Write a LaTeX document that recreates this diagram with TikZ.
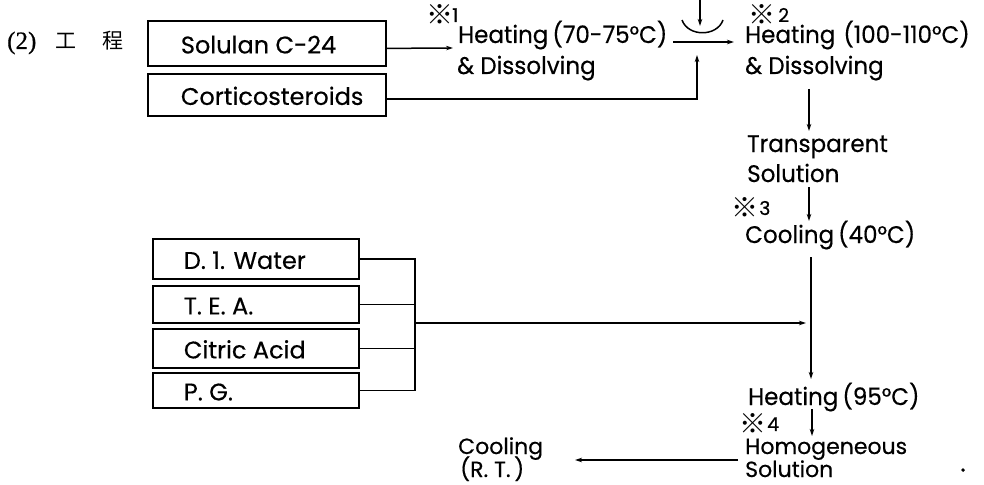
\documentclass[tikz,border=0pt]{standalone}
\usepackage{fontspec}
\setmainfont{Poppins}[FakeBold=0.4]
\newfontfamily\narrow{Poppins}[FakeStretch=0.96,FakeBold=0.4]
\newfontfamily\cjk{Noto Sans CJK JP}
\newfontfamily\serif{Liberation Serif}[FakeBold=0.6]
\usetikzlibrary{arrows.meta}
\newcommand{\rmk}[2]{{\cjk\fontsize{27}{27}\selectfont ※}\hspace{#1}\raisebox{3pt}{#2}}
\begin{document}
\begin{tikzpicture}[x=1pt,y=-1pt,
  lw/.style={line width=1.5pt},
  arr/.style={lw,-{Stealth[length=7pt,width=4.5pt]}},
  box/.style={draw,line width=1.8pt,anchor=north west,inner sep=0pt,
    text height=20pt,text depth=0pt,font=\fontsize{24}{28}\selectfont},
  txt/.style={anchor=base west,inner sep=0pt,font=\narrow\fontsize{24}{28}\selectfont},
  txts/.style={anchor=base west,inner sep=0pt,font=\fontsize{22}{24}\selectfont},
  refm/.style={anchor=west,inner sep=0pt,font=\fontsize{19}{20}\selectfont}
]
\useasboundingbox (0,0) rectangle (984,484);
\fill[white] (0,0) rectangle (984,484);

% title
\node[anchor=base west,inner sep=0pt] (title) at (7,49)
  {\serif\fontsize{25}{27}\selectfont (2)\hspace{19pt}{\cjk\fontsize{21}{24}\selectfont 工}\hspace{26pt}{\cjk\fontsize{21}{24}\selectfont 程}};

% input boxes (top)
\node[box,minimum width=238pt,minimum height=45pt] (sol) at (147,20)
  {\makebox[172pt][l]{Solulan C-24}};
\node[box,minimum width=238pt,minimum height=42pt] (cort) at (147,73)
  {\makebox[172pt][l]{Corticosteroids}};

% input boxes (lower)
\node[box,minimum width=206pt,minimum height=40pt] (water) at (152,238)
  {\makebox[144pt][l]{D. 1. Water}};
\node[box,minimum width=206pt,minimum height=37pt] (tea) at (152,285)
  {\makebox[144pt][l]{T. E. A.}};
\node[box,minimum width=206pt,minimum height=39pt] (cit) at (152,328)
  {\makebox[144pt][l]{Citric Acid}};
\node[box,minimum width=206pt,minimum height=35pt] (pg) at (152,372)
  {\makebox[144pt][l]{P. G.}};

% process texts
\node[txt] (h1a) at (458,43) {Heating\,(70-75°C)};
\node[txt] (h1b) at (457,74) {\& Dissolving};
\node[txt] (h2a) at (745,43) {Heating\,\,(100-110°C)};
\node[txt] (h2b) at (745,74) {\& Dissolving};
\node[txt] (tr1) at (747,152) {Transparent};
\node[txt] (tr2) at (747,182) {Solution};
\node[txt] (cool) at (745,243) {Cooling\,(40°C)};
\node[txt] (h3) at (748,405) {Heating\,(95°C)};
\node[txts] (hom1) at (745,454) {Homogeneous};
\node[txts] (hom2) at (745,477) {Solution};
\node[txts] (rt1) at (458,454) {Cooling};
\node[txts] (rt2) at (460,477) {(R.\ T.\,)};

% reference marks
\node[refm] (m1) at (426,15) {\rmk{-1pt}{1}};
\node[refm] (m2) at (748,15) {\rmk{3pt}{2}};
\node[refm] (m3) at (731,208) {\rmk{1pt}{3}};
\node[refm] (m4) at (739,424) {\rmk{1pt}{4}};
\node[circle,fill,inner sep=1.4pt] (dot) at (963,470) {};

% coordinates
\coordinate (t1) at (453,48);
\coordinate (up) at (697,55);
\coordinate (top) at (700,0);
\coordinate (bowlin) at (700,26);
\coordinate (b1) at (682,20);
\coordinate (b2) at (723,20);
\coordinate (j1) at (673,42);
\coordinate (j2) at (734,42);
\coordinate (a1) at (809,89);
\coordinate (a2) at (809,131);
\coordinate (a3) at (809,187);
\coordinate (a4) at (809,221);
\coordinate (a5) at (811,257);
\coordinate (a6) at (811,379);
\coordinate (a7) at (812,409);
\coordinate (a8) at (812,436);
\coordinate (r1) at (738,460);
\coordinate (r2) at (575,460);
\coordinate (colt) at (415,258);
\coordinate (colm) at (415,323);
\coordinate (tip3) at (806,323);

% connectors
\draw[arr] ([yshift=-5pt]sol.east) -- (t1);
\draw[arr] ([yshift=-4pt]cort.east) -| (up);
\draw[arr] (top) -- (bowlin);
\draw[lw] (b1) .. controls (688,37) and (717,37) .. (b2);
\draw[arr] (j1) -- (j2);
\draw[arr] (a1) -- (a2);
\draw[arr] (a3) -- (a4);
\draw[arr] (a5) -- (a6);
\draw[arr] (a7) -- (a8);
\draw[arr] (r1) -- (r2);
\draw[lw] (water.east) -- (water.east -| colt) -- (pg.east -| colt) -- (pg.east);
\draw[lw] (tea.east) -- (tea.east -| colt);
\draw[lw] (cit.east) -- (cit.east -| colt);
\draw[arr] (colm) -- (tip3);
\end{tikzpicture}
\end{document}
